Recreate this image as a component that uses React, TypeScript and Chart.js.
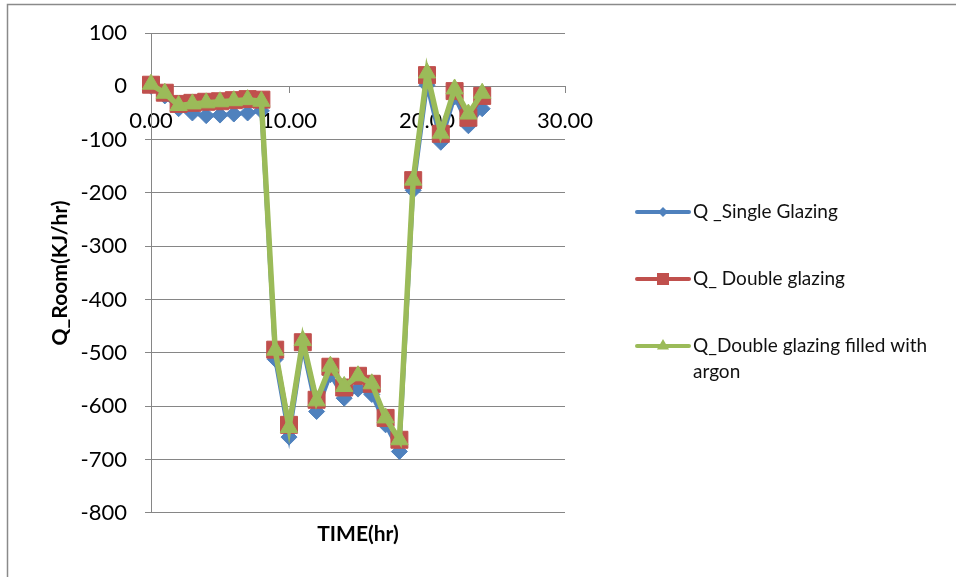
import React, { useEffect, useRef } from 'react';
import { Chart, registerables } from 'chart.js';

Chart.register(...registerables);

const hours = [0, 1, 2, 3, 4, 5, 6, 7, 8, 9, 10, 11, 12, 13, 14, 15, 16, 17, 18, 19, 20, 21, 22, 23, 24];
const singleGlazing = [0, -18, -42, -50, -55, -54, -52, -50, -46, -512, -658, -490, -610, -541, -585, -568, -578, -635, -685, -195, 2, -105, -20, -74, -42];
const doubleGlazing = [3, -12, -33, -31, -29, -28, -26, -24, -25, -494, -635, -480, -588, -526, -565, -543, -558, -622, -663, -176, 21, -89, -9, -59, -18];
const argonGlazing = [4, -13, -36, -33, -31, -29, -27, -25, -28, -495, -640, -477, -590, -525, -563, -543, -558, -622, -663, -176, 25, -88, -5, -52, -13];

const seriesLabels = ['Q _Single Glazing', 'Q_ Double glazing', 'Q_Double glazing filled with argon'];
const legendLines = [['Q _Single Glazing'], ['Q_ Double glazing'], ['Q_Double glazing filled with', 'argon']];
const xTitle = 'TIME(hr)';
const yTitle = 'Q_Room(KJ/hr)';

const BLUE = '#4F81BD';
const RED = '#C0504D';
const GREEN = '#9BBB59';
const GRID = '#868686';
const FONT = 'Lato';

const toPoints = (vals: number[]) => hours.map((h, i) => ({ x: h, y: vals[i] }));

function drawMarker(ctx: CanvasRenderingContext2D, style: string, x: number, y: number, r: number) {
  ctx.beginPath();
  if (style === 'rectRot') {
    ctx.moveTo(x, y - r);
    ctx.lineTo(x + r, y);
    ctx.lineTo(x, y + r);
    ctx.lineTo(x - r, y);
  } else if (style === 'rect') {
    ctx.rect(x - r, y - r, 2 * r, 2 * r);
  } else {
    ctx.moveTo(x, y - r);
    ctx.lineTo(x + r * 0.866, y + r * 0.5);
    ctx.lineTo(x - r * 0.866, y + r * 0.5);
  }
  ctx.closePath();
  ctx.fill();
}

const framePlugin = {
  id: 'frame',
  beforeDraw(chart: any) {
    const ctx = chart.ctx as CanvasRenderingContext2D;
    ctx.save();
    ctx.strokeStyle = '#8a8a8a';
    ctx.lineWidth = 1.5;
    ctx.beginPath();
    ctx.moveTo(7.5, chart.height);
    ctx.lineTo(7.5, 4.5);
    ctx.lineTo(chart.width, 4.5);
    ctx.stroke();
    ctx.restore();
  },
};

const legendPlugin = {
  id: 'sideLegend',
  afterDraw(chart: any) {
    const ctx = chart.ctx as CanvasRenderingContext2D;
    const ys = [212, 279, 346];
    const styles = ['rectRot', 'rect', 'triangle'];
    const sizes = [5, 6, 7];
    const colors = [BLUE, RED, GREEN];
    ctx.save();
    ctx.font = `19px ${FONT}`;
    ctx.textBaseline = 'middle';
    ctx.textAlign = 'left';
    legendLines.forEach((lines, i) => {
      const y = ys[i];
      ctx.strokeStyle = colors[i];
      ctx.fillStyle = colors[i];
      ctx.lineWidth = 4;
      ctx.lineCap = 'round';
      ctx.beginPath();
      ctx.moveTo(637, y);
      ctx.lineTo(689, y);
      ctx.stroke();
      drawMarker(ctx, styles[i], 663, y, sizes[i]);
      ctx.fillStyle = '#111';
      lines.forEach((t, j) => ctx.fillText(t, 693, y + j * 26));
    });
    ctx.restore();
  },
};

export default function App() {
  const ref = useRef<HTMLCanvasElement | null>(null);

  useEffect(() => {
    document.body.style.margin = '0';
    if (!ref.current) return;
    const chart = new Chart(ref.current, {
      type: 'line',
      data: {
        datasets: [
          {
            label: seriesLabels[0],
            data: toPoints(singleGlazing),
            borderColor: BLUE,
            backgroundColor: BLUE,
            borderWidth: 4,
            pointStyle: 'rectRot',
            pointRadius: 8,
            pointBorderWidth: 1,
            tension: 0,
            clip: false,
            order: 2,
          },
          {
            label: seriesLabels[1],
            data: toPoints(doubleGlazing),
            borderColor: RED,
            backgroundColor: RED,
            borderWidth: 4,
            pointStyle: 'rect',
            pointRadius: 12,
            pointBorderWidth: 1,
            tension: 0,
            clip: false,
            order: 1,
          },
          {
            label: seriesLabels[2],
            data: toPoints(argonGlazing),
            borderColor: GREEN,
            backgroundColor: GREEN,
            borderWidth: 5.5,
            pointStyle: 'triangle',
            pointRadius: 10,
            pointBorderWidth: 1,
            tension: 0,
            clip: false,
            order: 0,
          },
        ],
      },
      options: {
        responsive: false,
        animation: false,
        layout: { padding: { left: 40, top: 33, right: 391, bottom: 30 } },
        plugins: { legend: { display: false }, tooltip: { enabled: false } },
        scales: {
          x: {
            type: 'linear',
            min: 0,
            max: 30,
            position: { y: 0 } as any,
            ticks: {
              stepSize: 10,
              autoSkip: false,
              maxRotation: 0,
              padding: 15,
              color: '#000',
              font: { family: FONT, size: 22 },
              callback: (v: any) => Number(v).toFixed(2),
            },
            grid: { display: true, drawOnChartArea: false, drawTicks: true, tickLength: 6, color: GRID },
            border: { display: true, color: GRID, width: 1 },
          },
          xb: {
            type: 'linear',
            position: 'bottom',
            min: 0,
            max: 30,
            ticks: { display: false },
            grid: { display: false, drawTicks: false },
            border: { display: false },
            title: {
              display: true,
              text: xTitle,
              color: '#000',
              font: { family: FONT, size: 21, weight: 'bold' },
              padding: { top: 9, bottom: 0 },
            },
          },
          y: {
            type: 'linear',
            min: -800,
            max: 100,
            ticks: {
              stepSize: 100,
              padding: 18,
              color: '#000',
              font: { family: FONT, size: 22 },
            },
            grid: { color: GRID, tickLength: 6, drawTicks: true },
            border: { display: true, color: GRID, width: 1 },
            title: {
              display: true,
              text: yTitle,
              color: '#000',
              font: { family: FONT, size: 21, weight: 'bold' },
              padding: { top: 8, bottom: 0 },
            },
            afterFit: (s: any) => {
              s.width = 111;
            },
          },
        },
      },
      plugins: [framePlugin, legendPlugin],
    } as any);
    return () => chart.destroy();
  }, []);

  return (
    <div style={{ width: 956, height: 577 }}>
      <canvas ref={ref} width={956} height={577} style={{ display: 'block', width: 956, height: 577 }} />
    </div>
  );
}
